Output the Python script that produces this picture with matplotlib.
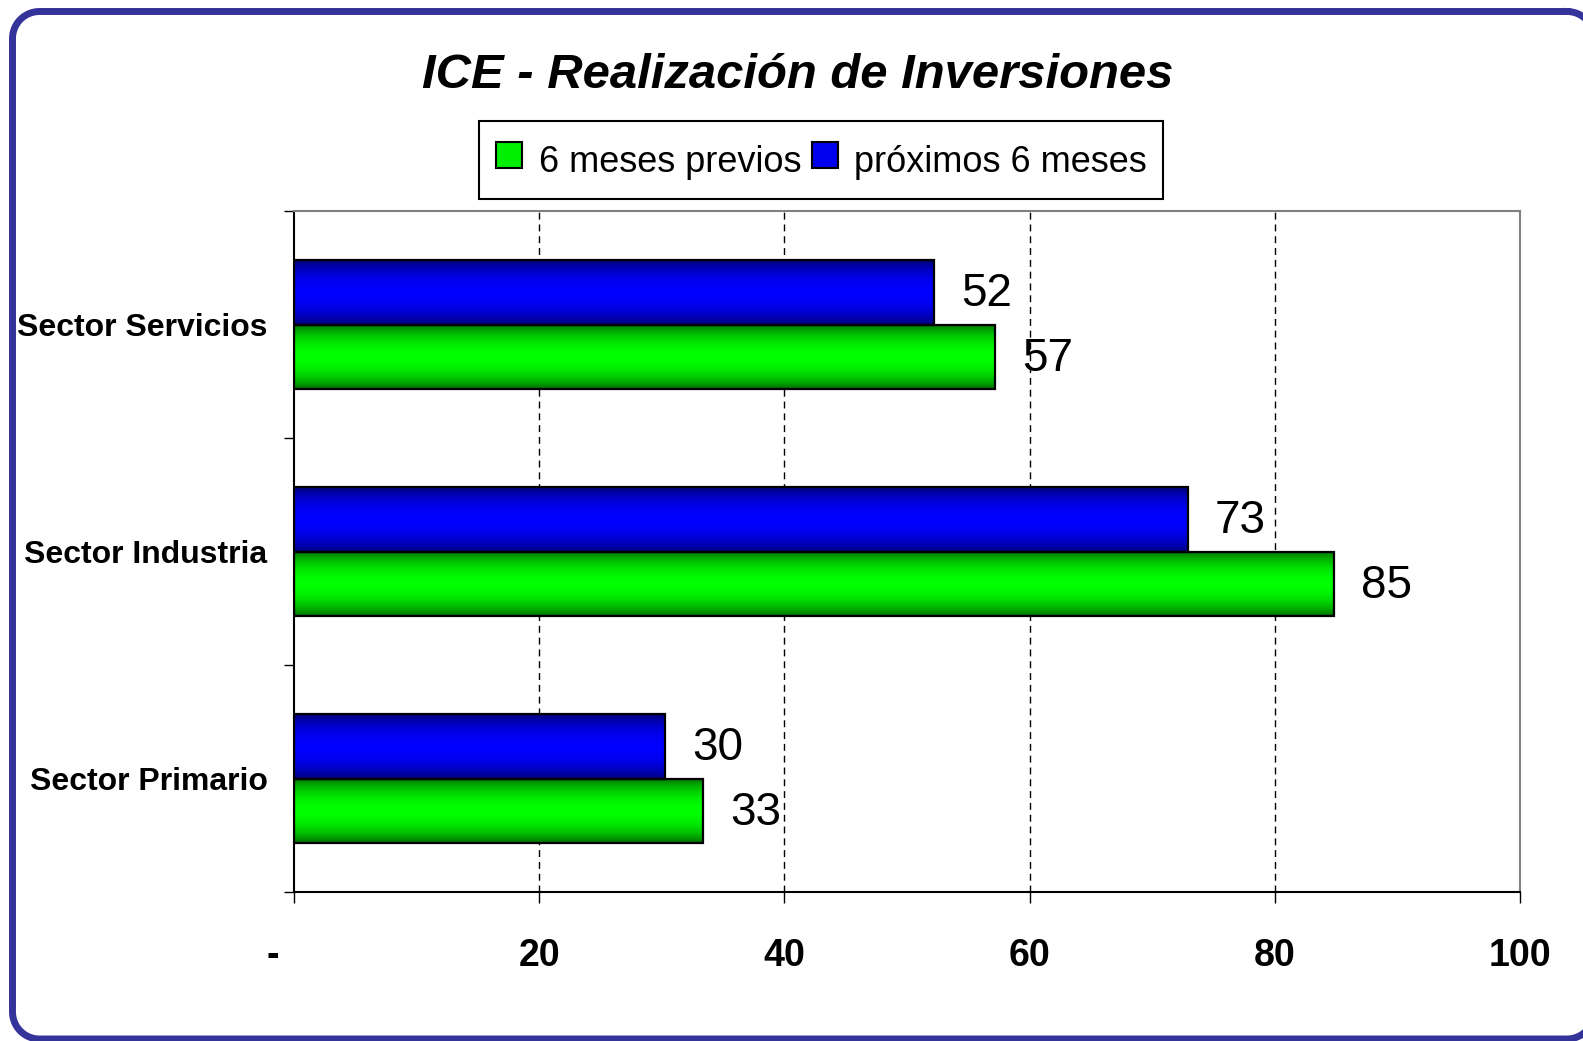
import numpy as np
import matplotlib.pyplot as plt
from matplotlib.colors import LinearSegmentedColormap
from matplotlib.lines import Line2D

plt.rcParams['font.family'] = ['Liberation Sans', 'DejaVu Sans']

categories = ['Sector Primario', 'Sector Industria', 'Sector Servicios']
previos = [33.4, 84.8, 57.2]      # 6 meses previos (green)
proximos = [30.3, 72.9, 52.2]     # próximos 6 meses (blue)
x_ticks = [0, 20, 40, 60, 80, 100]
x_ticklabels = ['-    ', '20', '40', '60', '80', '100']

W, H = 1583, 1041
fig = plt.figure(figsize=(W / 100, H / 100), dpi=100)

# background axes in pixel units, for the rounded frame
bg = fig.add_axes([0, 0, 1, 1], zorder=-1)
bg.set_xlim(0, W)
bg.set_ylim(H, 0)
bg.set_axis_off()


def rounded_rect(x0, y0, x1, y1, r, n=20):
    pts = []
    corners = [(x1 - r, y0 + r, -90, 0), (x1 - r, y1 - r, 0, 90),
               (x0 + r, y1 - r, 90, 180), (x0 + r, y0 + r, 180, 270)]
    for cx, cy, a0, a1 in corners:
        a = np.radians(np.linspace(a0, a1, n))
        pts += list(zip(cx + r * np.cos(a), cy + r * np.sin(a)))
    pts.append(pts[0])
    return np.array(pts)


frame = rounded_rect(12.5, 11.5, 1594, 1039, 27)
bg.plot(frame[:, 0], frame[:, 1], color='#333399', lw=5, clip_on=False,
        solid_joinstyle='round')

ax = fig.add_axes([0.1857, 0.1431, 0.7745, 0.6542])
ax.patch.set_alpha(0)

h = 0.284
y = np.arange(len(categories))

t = np.linspace(0, 1, 64)
grad = (np.sin(np.pi * t) ** 0.7).reshape(-1, 1)
cmap_green = LinearSegmentedColormap.from_list('g', ['#006400', '#00ff00'])
cmap_blue = LinearSegmentedColormap.from_list('b', ['#000070', '#0000ff'])


def gradient_bars(ypos, vals, cmap):
    bars = ax.barh(ypos, vals, height=h, facecolor='none', edgecolor='black',
                   linewidth=1.6, zorder=3)
    for b in bars:
        x0, y0 = b.get_x(), b.get_y()
        ax.imshow(grad, cmap=cmap, aspect='auto', vmin=0, vmax=1,
                  extent=[x0, x0 + b.get_width(), y0, y0 + b.get_height()],
                  interpolation='bilinear', zorder=2)
    return bars


gb = gradient_bars(y - h / 2, previos, cmap_green)
bb = gradient_bars(y + h / 2, proximos, cmap_blue)

for bars, vals in ((gb, previos), (bb, proximos)):
    for b, v in zip(bars, vals):
        ax.annotate(f'{v:.0f}', (b.get_width(), b.get_y() + b.get_height() / 2),
                    xytext=(27, -2), textcoords='offset pixels',
                    ha='left', va='center', fontsize=33, zorder=4)

ax.set_xlim(0, 100)
ax.set_ylim(-0.5, 2.5)

ax.set_xticks(x_ticks)
ax.set_xticklabels(x_ticklabels, fontsize=27, fontweight='bold')
ax.tick_params(axis='x', direction='out', length=8, width=1, pad=25)

ax.set_yticks([-0.5, 0.5, 1.5, 2.5])
ax.set_yticklabels([])
ax.set_yticks(y, minor=True)
ax.set_yticklabels(categories, minor=True, fontsize=23, fontweight='bold')
ax.tick_params(axis='y', which='major', direction='out', length=7, width=1)
ax.tick_params(axis='y', which='minor', length=0, pad=19)

for gx in x_ticks[1:-1]:
    ax.axvline(gx, color='black', lw=1.0, ls=(0, (5, 3.5)), zorder=1)

for side in ('left', 'bottom'):
    ax.spines[side].set_color('black')
    ax.spines[side].set_linewidth(1.5)
for side in ('top', 'right'):
    ax.spines[side].set_color('#808080')
    ax.spines[side].set_linewidth(1.5)

fig.text(798 / W, 1 - 76 / H, 'ICE - Realización de Inversiones',
         ha='center', va='center', fontsize=35.3, fontweight='bold', style='italic')

handles = [Line2D([], [], ls='none', marker='s', markersize=19,
                  markerfacecolor='#00ee00', markeredgecolor='black', markeredgewidth=1.5),
           Line2D([], [], ls='none', marker='s', markersize=19,
                  markerfacecolor='#0000ee', markeredgecolor='black', markeredgewidth=1.5)]
leg = fig.legend(handles, ['6 meses previos', 'próximos 6 meses'], ncol=2,
                 loc='center', bbox_to_anchor=(821 / W, 1 - 160 / H),
                 fontsize=26, frameon=True, fancybox=False, framealpha=1,
                 edgecolor='black', handlelength=0.8, handleheight=1.55,
                 handletextpad=0.42, columnspacing=0.25, borderpad=0.45,
                 borderaxespad=0)
leg.get_frame().set_linewidth(1.5)

fig.savefig('out.png', dpi=100)
